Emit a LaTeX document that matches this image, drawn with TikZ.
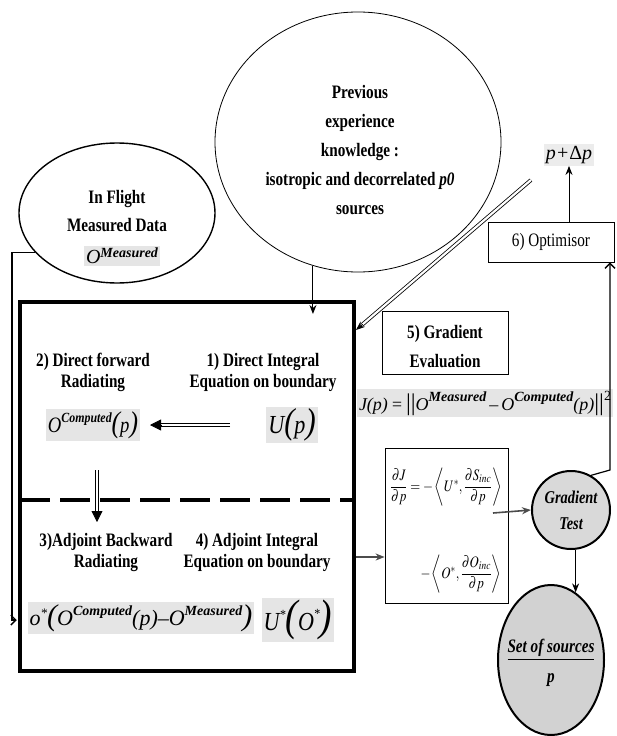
\documentclass[tikz,border=0pt]{standalone}
\usepackage{mathptmx}
\usepackage{amsmath}
\usepackage{fontspec}
\usetikzlibrary{arrows.meta,shapes.geometric,calc}
\newfontfamily\tf[FakeStretch=0.8]{Liberation Serif}
\newfontfamily\mf{Liberation Serif}
\newfontfamily\mfc[FakeStretch=0.85]{Liberation Serif}
\newcommand\fsz[1]{\fontsize{#1}{#1}\selectfont}
\newcommand\lab{\tf\bfseries\fontsize{19}{21}\selectfont}
\newcommand\mysup[2]{\raisebox{#1}{\fsz{14}\bfseries\itshape #2}}
\begin{document}
\begin{tikzpicture}[x=1pt,y=-1pt,
  lbl/.style={font=\lab, align=center, inner sep=0pt},
  shd/.style={fill=gray!20, inner sep=2pt},
  thinb/.style={draw, line width=0.8pt},
  arr/.style={-{Stealth[length=9pt,width=7pt]}, line width=1pt},
  barb/.style={-{Straight Barb[length=5pt,width=10pt,line width=1.4pt]}, line width=1.2pt},
  dbl/.style={double, double distance=2.2pt, line width=0.8pt},
  tri/.style={-{Triangle[length=11pt,width=11pt]}, line width=0.8pt}]
\useasboundingbox (0,0) rectangle (616,736);

% ---- shapes
\node[draw, ellipse, line width=1.4pt, minimum width=196pt, minimum height=140pt] (flight) at (117,213) {};
\node[draw, ellipse, line width=0.8pt, minimum width=286pt, minimum height=260pt] (prev) at (358,142) {};
\node[draw, line width=3.5pt, minimum width=334pt, minimum height=369pt, inner sep=0pt] (main) at (187,486.5) {};
\coordinate (dl) at (20,500);
\coordinate (dr) at (354,500);
\draw[line width=3.5pt, dash pattern=on 30pt off 10pt] (dl) -- (dr);

\node[thinb, minimum width=126pt, minimum height=63pt] (geval) at (445,343) {};
\node[thinb, minimum width=126pt, minimum height=40pt, font=\tf\fontsize{19}{21}\selectfont] (opt) at (551,242) {6) Optimisor};
\node[fill=gray!15, inner sep=2pt, font=\mf\itshape\fsz{20}] (pdp) at (569,155) {p+\upshape Δ\itshape p};
\node[draw, circle, line width=2pt, fill=gray!30, minimum size=78pt, inner sep=0pt, align=center,
      font=\tf\bfseries\itshape\fontsize{18}{26}\selectfont] (gt) at (571,510) {Gradient\\Test};
\node[draw, ellipse, line width=2pt, fill=gray!35, minimum width=106pt, minimum height=150pt] (src) at (551,660) {};
\node[thinb, minimum width=123pt, minimum height=155pt] (pbox) at (446.5,525.5) {};

% ---- texts
\node[lbl, font=\tf\bfseries\fontsize{19}{28}\selectfont] (tfl) at (117,211) {In Flight\\Measured Data};
\node[shd, font=\mf\itshape\fsz{20}] (omeas) at (122,256) {O\mysup{6pt}{Measured}};
\node[lbl, font=\tf\bfseries\fontsize{19}{29}\selectfont] (tprev) at (360,150)
  {Previous\\experience\\knowledge :\\isotropic and decorrelated \textit{p0}\\sources};
\node[lbl, font=\tf\bfseries\fontsize{19}{29}\selectfont] (tgev) at (445,347) {5) Gradient\\Evaluation};
\node[lbl] (t2) at (93,372) {2) Direct forward\\Radiating};
\node[lbl] (t1) at (263,372) {1) Direct Integral\\Equation on boundary};
\node[lbl] (t3) at (106,552) {3)Adjoint Backward\\Radiating};
\node[lbl] (t4) at (257,552) {4) Adjoint Integral\\Equation on boundary};
\node[lbl, font=\tf\bfseries\itshape\fontsize{19}{30}\selectfont] (tsrc) at (551,663) {\underline{Set of sources}\\p};

% ---- formulas
\node[shd, font=\mfc\itshape\fsz{22}] (ocomp) at (93,425) {O\mysup{10pt}{Computed}{\fsz{30}(}p{\fsz{30})}};
\node[shd, font=\mfc\itshape\fsz{26}] (up) at (292,425) {U{\fsz{36}(}p{\fsz{36})}};
\node[shd, font=\mf\itshape\fsz{22}] (oadj) at (141,618)
  {o\raisebox{8pt}{\fsz{13}*}{\fsz{30}(}O\mysup{10pt}{Computed}{\fsz{22}(}p{\fsz{22})}–O\mysup{10pt}{Measured}{\fsz{30})}};
\node[shd, font=\mfc\itshape\fsz{26}] (uadj) at (298,620) {U\raisebox{11pt}{\fsz{14}*}{\fsz{44}(}O\raisebox{12pt}{\fsz{14}*}{\fsz{44})}};
\node[shd, font=\mf\itshape\fsz{18}] (jp) at (485,403)
  {J(p)\,=\,{\upshape\fsz{24}||}O\mysup{9pt}{Measured}\,–\,O\mysup{9pt}{Computed}(p){\upshape\fsz{24}||}\raisebox{10pt}{\upshape\fsz{14}2}};
\node[inner sep=0pt, font=\fsz{16}] (r1) at (446,487)
  {\scalebox{0.8}[1]{$\dfrac{\partial J}{\partial p}=-\left\langle U^{*},\dfrac{\partial S_{\mathit{inc}}}{\partial p}\right\rangle$}};
\node[inner sep=0pt, font=\fsz{16}] (r2) at (461,574)
  {\scalebox{0.8}[1]{$-\left\langle O^{*},\dfrac{\partial O_{\mathit{inc}}}{\partial p}\right\rangle$}};

% ---- connectors
\coordinate (lx) at (12,0);
\coordinate (y620) at (0,620);
\draw[barb, shorten >=1.5pt] (flight.206) -- (flight.206 -| lx) |- (main.west |- y620);

\coordinate (y314) at (0,314);
\draw[arr] (prev.250) -- (prev.250 |- y314);

\coordinate (ds) at (531,180);
\coordinate (de) at (356,330);
\draw[dbl, shorten >=8pt] (ds) -- (de);
\draw[-{Stealth[length=9pt,width=7pt]}, line width=0.8pt] ($(de)!9pt!(ds)$) -- (de);

\draw[arr] (pdp.south |- opt.north) -- (pdp.south);

\coordinate (x610) at (610,0);
\draw[barb] (gt.60) -- (gt.north -| x610) -- (opt.south -| x610);

\coordinate (y557) at (0,557);
\draw[arr, line width=1.8pt, gray!60!black] (main.east |- y557) -- (pbox.west |- y557);

\coordinate (ps) at (493,513);
\draw[arr, line width=1.6pt, gray!60!black] (ps) -- (gt.west);

\draw[arr] (src.70 |- gt.south) -- (src.70);

\coordinate (ha) at (230,425);
\coordinate (hb) at (150,425);
\draw[dbl, shorten >=10pt] (ha) -- (hb);
\draw[tri] ($(hb)!11pt!(ha)$) -- (hb);

\coordinate (va) at (97,470);
\coordinate (vb) at (97,522);
\draw[dbl, shorten >=10pt] (va) -- (vb);
\draw[tri] ($(vb)!11pt!(va)$) -- (vb);
\end{tikzpicture}
\end{document}
